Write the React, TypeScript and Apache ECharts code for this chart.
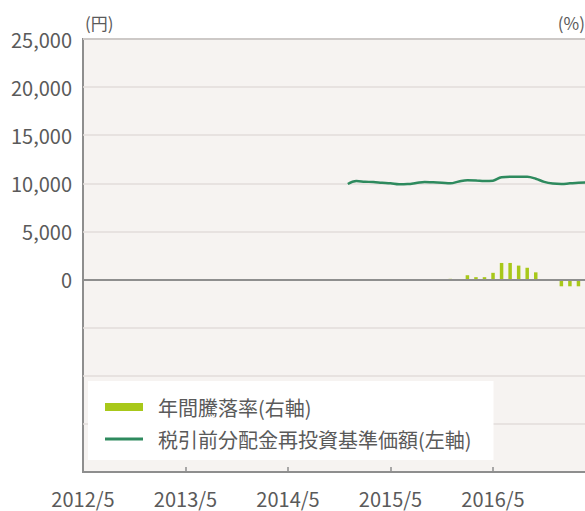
import React, { useEffect, useRef } from "react";
import * as echarts from "echarts";

const lineMonths = [
  "2014/12", "2015/1", "2015/2", "2015/3", "2015/4", "2015/5", "2015/6", "2015/7",
  "2015/8", "2015/9", "2015/10", "2015/11", "2015/12", "2016/1", "2016/2", "2016/3",
  "2016/4", "2016/5", "2016/6", "2016/7", "2016/8", "2016/9", "2016/10", "2016/11",
  "2016/12", "2017/1", "2017/2", "2017/3", "2017/4",
];
const navValues = [
  9930, 10230, 10170, 10130, 10060, 10000, 9900, 9920,
  10030, 10150, 10100, 10060, 10000, 10200, 10330, 10300,
  10230, 10280, 10640, 10690, 10690, 10680, 10480, 10150,
  9980, 9930, 10000, 10060, 10080,
];

const barMonths = [
  "2015/12", "2016/1", "2016/2", "2016/3", "2016/4", "2016/5", "2016/6", "2016/7",
  "2016/8", "2016/9", "2016/10", "2016/11", "2016/12", "2017/1", "2017/2", "2017/3", "2017/4",
];
const returnValues = [
  0.3, -0.3, 1.8, 1.0, 1.0, 2.8, 6.9, 6.9,
  5.8, 4.9, 3.0, 0.2, -0.3, -2.8, -2.8, -2.8, -2.5,
];

const xStartYear = 2012;
const xStartMonth = 5;
const xEndMonth = "2017/4";

const leftTicks = { min: -20000, max: 25000, interval: 5000 };
const rightTicks = { min: -80, max: 100, interval: 20 };

const legendNames = ["年間騰落率(右軸)", "税引前分配金再投資基準価額(左軸)"];

const FONT = "'Noto Sans CJK JP', 'Noto Sans', sans-serif";
const AXIS_GRAY = "#8e8e8e";
const TEXT_GRAY = "#5a5a5a";

function monthIndex(s: string): number {
  const [y, m] = s.split("/").map(Number);
  return (y - xStartYear) * 12 + (m - xStartMonth);
}

export default function App() {
  const ref = useRef<HTMLDivElement>(null);

  useEffect(() => {
    if (!ref.current) return;
    const chart = echarts.init(ref.current, undefined, { renderer: "svg" });
    const lineData = lineMonths.map((m, i) => [monthIndex(m), navValues[i]]);
    const barData = barMonths.map((m, i) => [monthIndex(m), returnValues[i]]);

    chart.setOption({
      animation: false,
      backgroundColor: "#ffffff",
      textStyle: { fontFamily: FONT },
      grid: {
        left: 83,
        right: 53,
        top: 39,
        bottom: 39,
        show: true,
        backgroundColor: "#f6f3f1",
        borderColor: AXIS_GRAY,
        borderWidth: 2,
        containLabel: false,
        outerBoundsMode: "none",
      },
      legend: {
        orient: "vertical",
        left: 88,
        top: 381,
        backgroundColor: "#ffffff",
        padding: [16, 22, 11, 17],
        itemWidth: 38,
        itemHeight: 8,
        itemGap: 12,
        selectedMode: false,
        textStyle: { fontSize: 20, color: TEXT_GRAY, fontFamily: FONT, padding: [0, 0, 0, 10] },
        data: [
          { name: legendNames[0], icon: "rect" },
          {
            name: legendNames[1],
            icon: "path://M0,0M0,2.6L38,2.6L38,5.4L0,5.4ZM38,8",
            itemStyle: { color: "#2e8a5e", borderWidth: 0 },
          },
        ],
      },
      xAxis: {
        type: "value",
        min: 0,
        max: monthIndex(xEndMonth),
        interval: 12,
        axisLine: { show: true, onZero: false, lineStyle: { color: AXIS_GRAY, width: 2 } },
        axisTick: { show: true, inside: true, length: 5, lineStyle: { color: AXIS_GRAY, width: 1.5 } },
        splitLine: { show: false },
        axisLabel: {
          fontSize: 20,
          lineHeight: 20,
          color: TEXT_GRAY,
          fontFamily: FONT,
          margin: 16,
          showMaxLabel: false,
          formatter: (v: number) =>
            v % 12 === 0 ? `${xStartYear + v / 12}/${xStartMonth}` : "",
        },
      },
      yAxis: [
        {
          type: "value",
          min: leftTicks.min,
          max: leftTicks.max,
          interval: leftTicks.interval,
          axisLine: { show: false },
          axisTick: { show: false },
          splitLine: { show: true, lineStyle: { color: "#e2ddda", width: 1.5 } },
          axisLabel: {
            fontSize: 20,
            color: TEXT_GRAY,
            fontFamily: FONT,
            margin: 11,
            formatter: (v: number) => (v < 0 ? "" : v.toLocaleString("en-US")),
          },
        },
        {
          type: "value",
          position: "right",
          min: rightTicks.min,
          max: rightTicks.max,
          interval: rightTicks.interval,
          axisLine: { show: false },
          axisTick: { show: false },
          splitLine: { show: false },
          axisLabel: { show: false },
        },
      ],
      graphic: [
        {
          type: "text",
          left: 85,
          top: 14,
          style: { text: "(円)", fontSize: 17, fill: TEXT_GRAY, fontFamily: FONT },
        },
        {
          type: "text",
          right: 640 - 585,
          top: 14,
          style: { text: "(%)", fontSize: 17, fill: TEXT_GRAY, fontFamily: FONT },
        },
      ],
      series: [
        {
          name: legendNames[0],
          type: "bar",
          yAxisIndex: 1,
          data: barData,
          barWidth: 3.5,
          itemStyle: { color: "#a8c81a" },
          z: 3,
        },
        {
          name: legendNames[1],
          type: "line",
          yAxisIndex: 0,
          data: lineData,
          symbol: "none",
          smooth: 0.4,
          lineStyle: { color: "#2e8a5e", width: 2.5 },
          itemStyle: { color: "#2e8a5e" },
          z: 4,
          markLine: {
            silent: true,
            symbol: ["none", "none"],
            label: { show: false },
            lineStyle: { color: AXIS_GRAY, width: 2, type: "solid" },
            data: [{ yAxis: 0 }],
          },
        },
      ],
    });

    return () => chart.dispose();
  }, []);

  return (
    <div
      style={{
        position: "fixed",
        left: 0,
        top: 0,
        width: 585,
        height: 511,
        overflow: "hidden",
        background: "#ffffff",
      }}
    >
      <div ref={ref} style={{ width: 640, height: 511 }} />
    </div>
  );
}
